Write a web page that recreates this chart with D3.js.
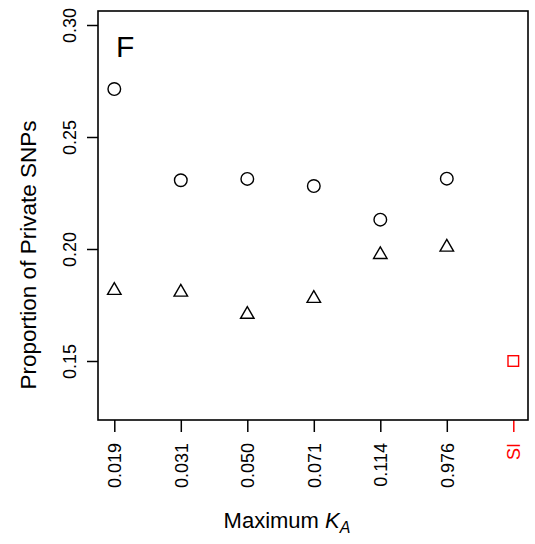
<!DOCTYPE html>
<html>
<head>
<meta charset="utf-8">
<script src="https://cdn.jsdelivr.net/npm/d3@7"></script>
<style>
  html, body { margin: 0; padding: 0; background: #fff; }
  svg { display: block; font-family: "Liberation Sans", Arial, sans-serif; }
</style>
</head>
<body>
<svg id="chart" width="535" height="544"></svg>
<script>
// Maximum K_A categories (SI = self-incompatible reference)
const categories = ["0.019", "0.031", "0.050", "0.071", "0.114", "0.976"];
const refCategory = "SI";
// Proportion of private SNPs, two series plotted per category
const circleValues = [0.2714, 0.2307, 0.2313, 0.2281, 0.2131, 0.2314];
const triangleValues = [0.1815, 0.1807, 0.1708, 0.1779, 0.1975, 0.2008];
const refValue = 0.150;
const yTicks = [0.15, 0.20, 0.25, 0.30];

const svg = d3.select("#chart");
const box = { left: 98, right: 528, top: 11, bottom: 420 };

const allCats = categories.concat([refCategory]);
const x = d3.scaleLinear().domain([1, allCats.length]).range([114.3, 513.3]);
const xPos = c => x(allCats.indexOf(c) + 1);
const y = d3.scaleLinear().domain([0.15, 0.30]).range([361, 25]);

// Y axis: ticks outside the box, labels rotated
const yAxis = d3.axisLeft(y).tickValues(yTicks).tickFormat(d3.format(".2f"))
  .tickSize(11).tickPadding(0);
const gy = svg.append("g").attr("transform", `translate(${box.left},0)`).call(yAxis);
gy.select(".domain").remove();
gy.selectAll(".tick line").attr("stroke", "#000").attr("stroke-width", 1.5);
gy.selectAll(".tick text")
  .attr("x", null).attr("dy", null)
  .attr("transform", "translate(-22,0) rotate(-90)")
  .attr("text-anchor", "middle")
  .attr("font-size", 18)
  .attr("fill", "#000");

// X axis: category ticks, labels read bottom to top
const xAxis = d3.axisBottom(x).tickValues(d3.range(1, allCats.length + 1))
  .tickFormat(i => allCats[i - 1]).tickSize(12).tickPadding(0);
const gx = svg.append("g").attr("transform", `translate(0,${box.bottom})`).call(xAxis);
gx.select(".domain").remove();
gx.selectAll(".tick line").attr("stroke", (d) => allCats[d - 1] === refCategory ? "#ff0000" : "#000")
  .attr("stroke-width", 1.5);
gx.selectAll(".tick text")
  .attr("y", null).attr("dy", null)
  .attr("transform", "translate(6.5,23) rotate(-90)")
  .attr("text-anchor", "end")
  .attr("font-size", 18)
  .attr("fill", (d) => allCats[d - 1] === refCategory ? "#ff0000" : "#000");

// Plot frame
svg.append("rect")
  .attr("x", box.left).attr("y", box.top)
  .attr("width", box.right - box.left).attr("height", box.bottom - box.top)
  .attr("fill", "none").attr("stroke", "#000").attr("stroke-width", 1.6);

// Panel letter
svg.append("text").attr("x", 116).attr("y", 57)
  .attr("font-size", 30).attr("fill", "#000").text("F");

// Circles
svg.append("g").selectAll("circle").data(circleValues).join("circle")
  .attr("cx", (d, i) => xPos(categories[i])).attr("cy", d => y(d))
  .attr("r", 6.3).attr("fill", "none").attr("stroke", "#000").attr("stroke-width", 1.4);

// Triangles (centered on circumcenter)
const triPath = (() => {
  const s = 13.5, R = s / Math.sqrt(3);
  return `M0,${-R}L${s / 2},${R / 2}L${-s / 2},${R / 2}Z`;
})();
svg.append("g").selectAll("path").data(triangleValues).join("path")
  .attr("d", triPath)
  .attr("transform", (d, i) => `translate(${xPos(categories[i])},${y(d)})`)
  .attr("fill", "none").attr("stroke", "#000").attr("stroke-width", 1.4)
  .attr("stroke-linejoin", "miter");

// Reference square
svg.append("rect")
  .attr("x", xPos(refCategory) - 5.3).attr("y", y(refValue) - 5.3)
  .attr("width", 10.6).attr("height", 10.6)
  .attr("fill", "none").attr("stroke", "#ff0000").attr("stroke-width", 1.4);

// Axis titles
svg.append("text")
  .attr("transform", "translate(36,255) rotate(-90)")
  .attr("text-anchor", "middle").attr("font-size", 22.5).attr("fill", "#000")
  .text("Proportion of Private SNPs");

const xt = svg.append("text")
  .attr("x", 287).attr("y", 528)
  .attr("text-anchor", "middle").attr("font-size", 22).attr("fill", "#000");
xt.append("tspan").text("Maximum ");
xt.append("tspan").attr("font-style", "italic").text("K");
xt.append("tspan").attr("font-style", "italic").attr("font-size", 16).attr("dy", 5).text("A");
</script>
</body>
</html>
